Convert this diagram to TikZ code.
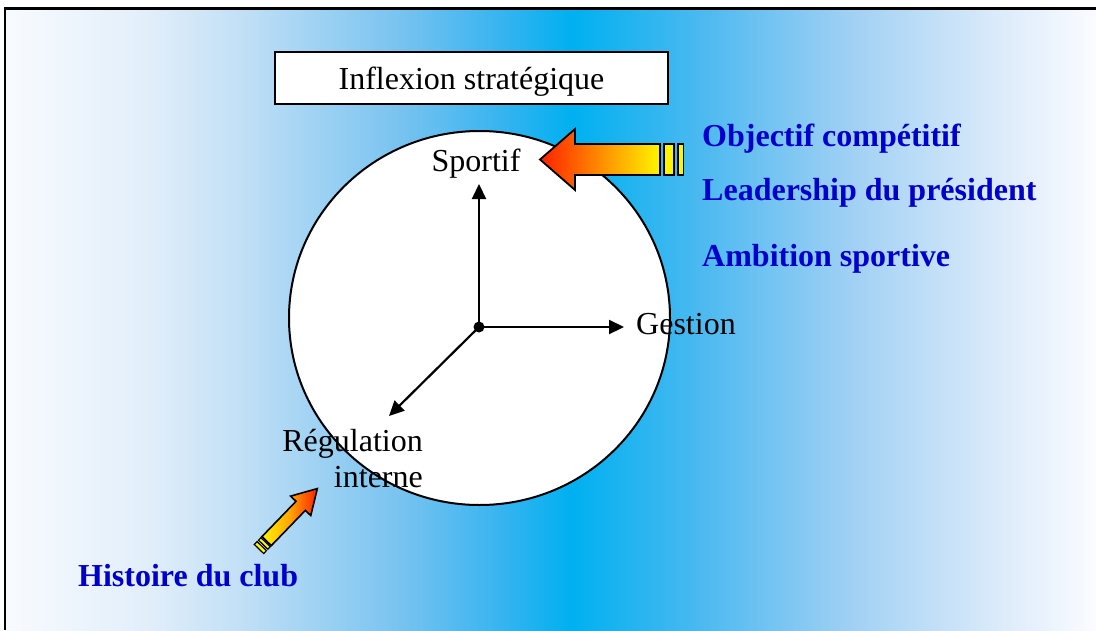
\documentclass[tikz,border=0pt]{standalone}
\usepackage{fontspec}
\setmainfont{Liberation Serif}
\usetikzlibrary{arrows.meta,shapes.geometric}
\definecolor{cyanmid}{RGB}{0,176,240}
\definecolor{lblblue}{RGB}{0,0,204}
\definecolor{arrred}{RGB}{255,32,0}
\definecolor{arryel}{RGB}{255,245,0}
\definecolor{bgA}{RGB}{248,251,254}
\definecolor{bgB}{RGB}{225,238,250}
\definecolor{bgC}{RGB}{190,222,246}
\definecolor{bgD}{RGB}{120,195,240}
\definecolor{bgE}{RGB}{55,180,240}
\definecolor{bgF}{RGB}{75,185,240}
\definecolor{bgG}{RGB}{160,208,244}
\definecolor{bgH}{RGB}{220,235,250}
\definecolor{bgI}{RGB}{250,252,255}
\pgfdeclarehorizontalshading{bgshade}{100bp}{color(0bp)=(bgA); color(25bp)=(bgA); color(31.65bp)=(bgB); color(36.23bp)=(bgC); color(43.1bp)=(bgD); color(47.69bp)=(bgE); color(50.99bp)=(cyanmid); color(56.85bp)=(bgF); color(63.73bp)=(bgG); color(70.6bp)=(bgH); color(75bp)=(bgI); color(100bp)=(bgI)}
\begin{document}
\begin{tikzpicture}[x=1pt,y=-1pt,
  txt/.style={font=\fontsize{32}{36}\selectfont, inner sep=0pt},
  bluetxt/.style={font=\fontsize{32}{36}\selectfont\bfseries, text=lblblue, inner sep=0pt, anchor=base west},
  axisarrow/.style={line width=2.2pt, -{Triangle[length=15pt,width=14pt]}},
  fatarrow/.style={draw=black, line width=1.8pt, line join=miter},
  barbox/.style={draw=black, line width=1.4pt, fill=arryel}]
\useasboundingbox (0,0) rectangle (1096,630);
% background gradient
\shade[shading=bgshade] (5,9) rectangle (1096,630);
\draw[line width=2.6pt] (5,630) -- (5,8.5) -- (1096,8.5);
% title box
\node (infl) [draw, fill=white, line width=2pt, minimum width=393pt, minimum height=52pt, inner sep=0pt] at (471.5,78) {};
\node (infltxt) [txt, anchor=base] at (471.5,89) {Inflexion stratégique};
% circle
\node (circ) [draw, fill=white, ellipse, line width=2pt, minimum width=381pt, minimum height=374pt, inner sep=0pt] at (479.5,318) {};
% center and axes
\coordinate (c) at (479,327);
\coordinate (up) at (479,184);
\coordinate (rt) at (624,327);
\coordinate (dl) at (389,416);
\draw[axisarrow] (c) -- (up);
\draw[axisarrow] (c) -- (rt);
\draw[axisarrow] (c) -- (dl);
\fill (c) circle (5.5);
% labels
\node (sportif) [txt, anchor=base] at (476,171) {Sportif};
\node (gestion) [txt, anchor=base west] at (636,334) {Gestion};
\node (regul) [txt, anchor=base east] at (423,451) {Régulation};
\node (interne) [txt, anchor=base east] at (423,487) {interne};
% big fat arrow
\path[fatarrow, left color=arrred, right color=arryel, middle color=orange!90!yellow]
  (540,159.5) -- (575,129) -- (575,144) -- (660,144) -- (660,175) -- (575,175) -- (575,190) -- cycle;
\draw[barbox] (664,144) rectangle (674,175);
\draw[barbox] (678,144) rectangle (683.5,175);
% small arrow
\begin{scope}[shift={(259,549)}, rotate=46]
  \path[fatarrow, line width=1.6pt, left color=arryel, right color=arrred, middle color=orange!70!yellow]
    (11,-6.5) -- (60,-6.5) -- (60,-14) -- (84,0) -- (60,14) -- (60,6.5) -- (11,6.5) -- cycle;
  \draw[barbox, line width=1.2pt] (0,-6.5) rectangle (4,6.5);
  \draw[barbox, line width=1.2pt] (6,-6.5) rectangle (9.5,6.5);
\end{scope}
% blue texts
\node (obj) [bluetxt] at (702,146) {Objectif compétitif};
\node (lead) [bluetxt] at (702,200) {Leadership du président};
\node (amb) [bluetxt] at (702,266) {Ambition sportive};
\node (hist) [bluetxt] at (78,586) {Histoire du club};
\end{tikzpicture}
\end{document}
